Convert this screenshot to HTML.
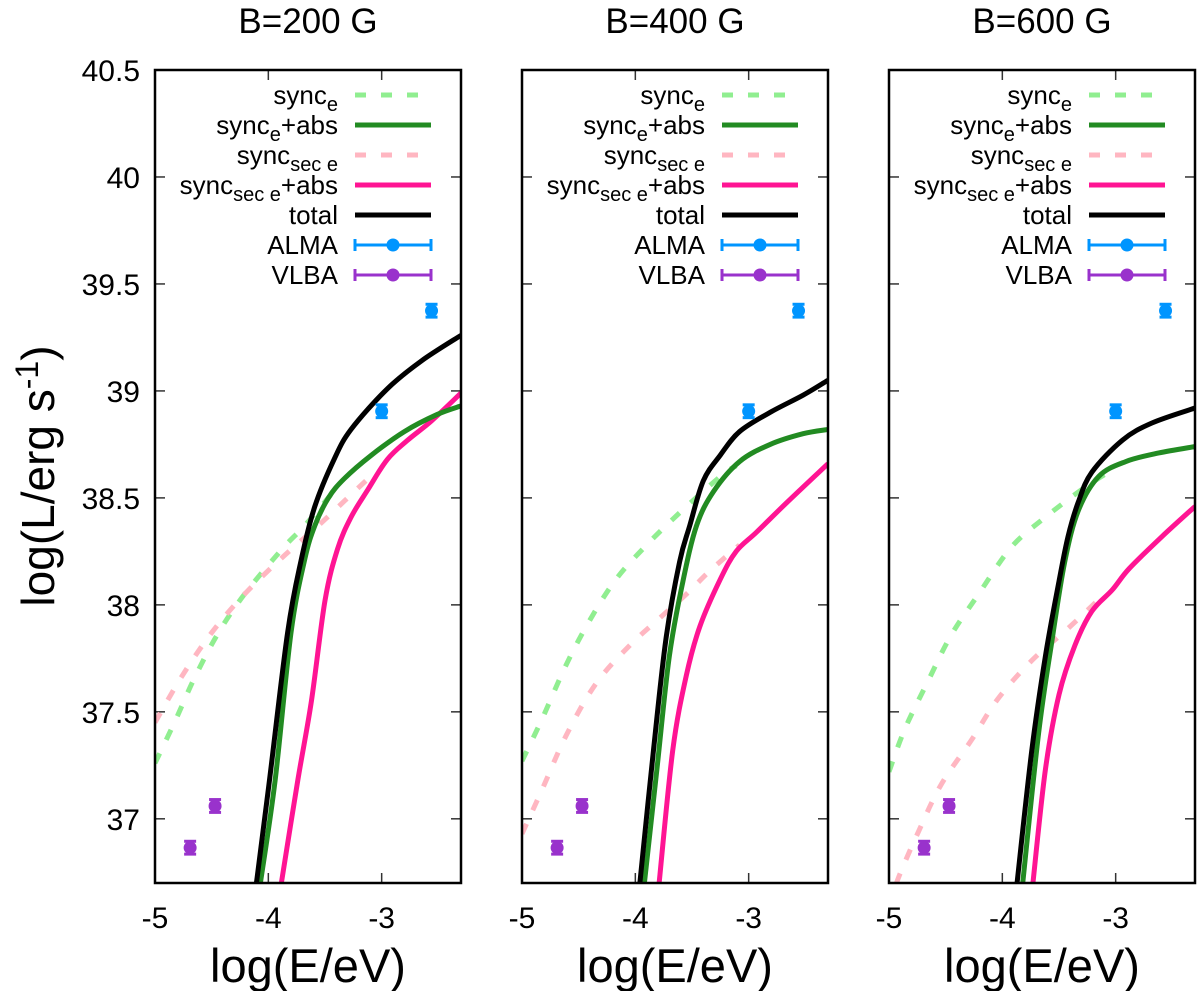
<!DOCTYPE html>
<html><head><meta charset="utf-8"><style>
body{margin:0;background:#fff;}
svg text{font-family:"Liberation Sans",Arial,sans-serif;fill:#000;}
</style></head><body>
<svg id="chart" width="1200" height="991" viewBox="0 0 1200 991" xmlns="http://www.w3.org/2000/svg">
<text x="0" y="0" font-size="46" text-anchor="middle" transform="translate(54,476) rotate(-90)">log(L/erg s<tspan dy="-16" font-size="32">-1</tspan><tspan dy="16">)</tspan></text>
<g id="panels"></g>
</svg>
<script>
const titles = ["B=200 G","B=400 G","B=600 G"];
const xTicks = [-5,-4,-3];
const yTicks = [37,37.5,38,38.5,39,39.5,40,40.5];
const yTickLabels = ["37","37.5","38","38.5","39","39.5","40","40.5"];
// panel 1
const p1SyncX = [-5,-4.82,-4.65,-4.44,-4.21,-3.88,-3.68,-3.44];
const p1SyncY = [37.26,37.46,37.66,37.87,38.05,38.26,38.37,38.52];
const p1SyncAbsX = [-4.07,-3.94,-3.80,-3.68,-3.59,-3.47,-3.33,-3.09,-2.80,-2.51,-2.30];
const p1SyncAbsY = [36.7,37.18,37.87,38.21,38.37,38.50,38.59,38.70,38.81,38.89,38.93];
const p1SecX = [-5,-4.77,-4.50,-4.21,-3.88,-3.56,-3.30,-3.06];
const p1SecY = [37.45,37.66,37.87,38.05,38.22,38.37,38.50,38.62];
const p1SecAbsX = [-3.885,-3.74,-3.62,-3.50,-3.39,-3.27,-3.12,-2.95,-2.77,-2.56,-2.30];
const p1SecAbsY = [36.7,37.18,37.55,38.02,38.26,38.41,38.54,38.68,38.77,38.86,38.99];
const p1TotalX = [-4.105,-3.99,-3.83,-3.71,-3.59,-3.42,-3.27,-2.95,-2.65,-2.30];
const p1TotalY = [36.7,37.18,37.87,38.21,38.46,38.68,38.82,39.01,39.14,39.26];
// panel 2
const p2SyncX = [-5,-4.82,-4.61,-4.40,-4.17,-3.90,-3.61,-3.25,-3.11];
const p2SyncY = [37.27,37.47,37.72,37.93,38.12,38.28,38.43,38.60,38.65];
const p2SyncAbsX = [-3.92,-3.81,-3.70,-3.58,-3.46,-3.31,-3.08,-2.81,-2.52,-2.30];
const p2SyncAbsY = [36.7,37.23,37.76,38.11,38.37,38.53,38.67,38.75,38.80,38.82];
const p2SecX = [-5,-4.82,-4.61,-4.35,-4.05,-3.76,-3.55,-3.34,-3.08];
const p2SecY = [36.93,37.14,37.39,37.63,37.81,37.95,38.05,38.16,38.28];
const p2SecAbsX = [-3.79,-3.67,-3.55,-3.43,-3.25,-3.11,-2.93,-2.66,-2.30];
const p2SecAbsY = [36.7,37.32,37.67,37.90,38.12,38.25,38.34,38.48,38.66];
const p2TotalX = [-3.96,-3.84,-3.73,-3.61,-3.52,-3.40,-3.25,-3.08,-2.81,-2.52,-2.30];
const p2TotalY = [36.7,37.32,37.84,38.20,38.37,38.58,38.70,38.81,38.90,38.98,39.05];
// panel 3
const p3SyncX = [-5,-4.86,-4.65,-4.45,-4.21,-3.92,-3.62,-3.27,-3.00];
const p3SyncY = [37.22,37.42,37.65,37.86,38.05,38.27,38.41,38.55,38.64];
const p3SyncAbsX = [-3.82,-3.68,-3.56,-3.45,-3.33,-3.15,-2.91,-2.62,-2.30];
const p3SyncAbsY = [36.7,37.40,37.84,38.20,38.44,38.60,38.67,38.71,38.74];
const p3SecX = [-5,-4.92,-4.74,-4.54,-4.27,-4.04,-3.74,-3.42,-3.12];
const p3SecY = [36.58,36.72,36.94,37.16,37.37,37.56,37.74,37.89,38.04];
const p3SecAbsX = [-3.73,-3.62,-3.50,-3.36,-3.21,-3.03,-2.88,-2.59,-2.30];
const p3SecAbsY = [36.7,37.23,37.58,37.81,37.97,38.07,38.17,38.32,38.46];
const p3TotalX = [-3.87,-3.74,-3.62,-3.50,-3.42,-3.33,-3.21,-2.94,-2.68,-2.30];
const p3TotalY = [36.7,37.32,37.76,38.11,38.32,38.48,38.62,38.77,38.85,38.92];
// observations
const almaX = [-3.0,-2.56];
const almaY = [38.905,39.375];
const almaErr = [0.03,0.03];
const vlbaX = [-4.69,-4.47];
const vlbaY = [36.865,37.06];
const vlbaErr = [0.03,0.03];

const panelData = [
 {sx:p1SyncX,sy:p1SyncY,ax:p1SyncAbsX,ay:p1SyncAbsY,cx:p1SecX,cy:p1SecY,dx:p1SecAbsX,dy:p1SecAbsY,tx:p1TotalX,ty:p1TotalY},
 {sx:p2SyncX,sy:p2SyncY,ax:p2SyncAbsX,ay:p2SyncAbsY,cx:p2SecX,cy:p2SecY,dx:p2SecAbsX,dy:p2SecAbsY,tx:p2TotalX,ty:p2TotalY},
 {sx:p3SyncX,sy:p3SyncY,ax:p3SyncAbsX,ay:p3SyncAbsY,cx:p3SecX,cy:p3SecY,dx:p3SecAbsX,dy:p3SecAbsY,tx:p3TotalX,ty:p3TotalY}
];
const panelLefts = [155,522,889];
const W = 306, TOP = 70, BOT = 883;
const XMIN=-5, XMAX=-2.3, YMIN=36.7, YMAX=40.5;
const NS="http://www.w3.org/2000/svg";
const root=document.getElementById('panels');
function mk(tag,attrs,parent){const e=document.createElementNS(NS,tag);for(const k in attrs)e.setAttribute(k,attrs[k]);(parent||root).appendChild(e);return e;}
function smooth(P){
  let d='M'+P[0][0]+','+P[0][1];
  for(let i=0;i<P.length-1;i++){
    const p0=P[Math.max(0,i-1)],p1=P[i],p2=P[i+1],p3=P[Math.min(P.length-1,i+2)];
    const c1=[p1[0]+(p2[0]-p0[0])/6,p1[1]+(p2[1]-p0[1])/6];
    const c2=[p2[0]-(p3[0]-p1[0])/6,p2[1]-(p3[1]-p1[1])/6];
    d+=' C'+c1[0]+','+c1[1]+' '+c2[0]+','+c2[1]+' '+p2[0]+','+p2[1];
  }
  return d;
}

panelLefts.forEach((L,pi)=>{
  const xs=v=>L+(v-XMIN)/(XMAX-XMIN)*W;
  const ys=v=>BOT-(v-YMIN)/(YMAX-YMIN)*(BOT-TOP);
  const g=mk('g',{});
  
  
  const t=mk('text',{x:L+W/2,y:33,'font-size':35,'text-anchor':'middle'},g);
  t.textContent=titles[pi];
  
  
  const cp=mk('clipPath',{id:'clip'+pi},g);
  mk('rect',{x:L,y:TOP,width:W,height:BOT-TOP},cp);
  yTicks.forEach((v,i)=>{
    const y=ys(v);
    mk('line',{x1:L,x2:L+10,y1:y,y2:y,stroke:'#333','stroke-width':1.5},g);
    mk('line',{x1:L+W-10,x2:L+W,y1:y,y2:y,stroke:'#333','stroke-width':1.5},g);
    if(pi===0){const tl=mk('text',{x:140,y:y+11,'font-size':30,'text-anchor':'end'},g);tl.textContent=yTickLabels[i];
      
      }
  });
  xTicks.forEach(v=>{
    const x=xs(v);
    mk('line',{x1:x,x2:x,y1:BOT,y2:BOT-10,stroke:'#333','stroke-width':1.5},g);
    mk('line',{x1:x,x2:x,y1:TOP,y2:TOP+10,stroke:'#333','stroke-width':1.5},g);
    const tl=mk('text',{x:x,y:BOT+45,'font-size':30,'text-anchor':'middle'},g);tl.textContent=String(v);
    
    
  });
  const xl=mk('text',{x:L+W/2,y:982,'font-size':47,'text-anchor':'middle'},g);
  xl.textContent='log(E/eV)';
  
  
  const d=panelData[pi];
  const cg=mk('g',{'clip-path':'url(#clip'+pi+')'},g);
  function line(X,Y,col,dash,name){
    const P=X.map((x,i)=>[xs(x),ys(Y[i])]);
    const p=mk('path',{d:smooth(P),fill:'none',stroke:col,'stroke-width':5,'stroke-linejoin':'round'},cg);
    if(dash)p.setAttribute('stroke-dasharray','11 15');
    
    
  }
  line(d.sx,d.sy,'#90ee90',true,'sync-e-line');
  line(d.cx,d.cy,'#ffb6c1',true,'sync-sec-e-line');
  line(d.dx,d.dy,'#ff1493',false,'sync-sec-e-abs-line');
  line(d.ax,d.ay,'#228b22',false,'sync-e-abs-line');
  line(d.tx,d.ty,'#000',false,'total-line');
  function pts(X,Y,E,col,name){
    X.forEach((x,i)=>{
      const px=xs(x),y1=ys(Y[i]-E[i]),y2=ys(Y[i]+E[i]);
      const pg=mk('g',{},cg);
      
      
      mk('line',{x1:px,x2:px,y1:y1,y2:y2,stroke:col,'stroke-width':3},pg);
      mk('line',{x1:px-6,x2:px+6,y1:y1,y2:y1,stroke:col,'stroke-width':3},pg);
      mk('line',{x1:px-6,x2:px+6,y1:y2,y2:y2,stroke:col,'stroke-width':3},pg);
      mk('circle',{cx:px,cy:ys(Y[i]),r:6.5,fill:col},pg);
    });
  }
  pts(almaX,almaY,almaErr,'#0095ff','alma-point');
  pts(vlbaX,vlbaY,vlbaErr,'#9932cc','vlba-point');
  mk('rect',{x:L,y:TOP,width:W,height:BOT-TOP,fill:'none',stroke:'#000','stroke-width':2.5},g);
  const lg=mk('g',{},g);
  
  
  const rows=[
    ['sync','e','','#90ee90','dash'],
    ['sync','e','+abs','#228b22','solid'],
    ['sync','sec e','','#ffb6c1','dash'],
    ['sync','sec e','+abs','#ff1493','solid'],
    ['total','','','#000','solid'],
    ['ALMA','','','#0095ff','err'],
    ['VLBA','','','#9932cc','err']];
  rows.forEach((r,i)=>{
    const y=95+i*30;
    const tx=mk('text',{x:L+183,y:y+9,'font-size':26,'text-anchor':'end'},lg);
    
    
    let html=r[0];
    if(r[1])html+='<tspan dy="7" font-size="20">'+r[1]+'</tspan>';
    if(r[2])html+='<tspan dy="-7">'+r[2]+'</tspan>';
    tx.innerHTML=html;
    const x1=L+200,x2=L+276;
    if(r[4]==='err'){
      mk('line',{x1:x1,x2:x2,y1:y,y2:y,stroke:r[3],'stroke-width':3},lg);
      mk('line',{x1:x1,x2:x1,y1:y-6,y2:y+6,stroke:r[3],'stroke-width':3},lg);
      mk('line',{x1:x2,x2:x2,y1:y-6,y2:y+6,stroke:r[3],'stroke-width':3},lg);
      mk('circle',{cx:(x1+x2)/2,cy:y,r:6.5,fill:r[3]},lg);
    } else {
      const l=mk('line',{x1:x1,x2:x2,y1:y,y2:y,stroke:r[3],'stroke-width':5},lg);
      if(r[4]==='dash')l.setAttribute('stroke-dasharray','11 15');
    }
  });
});
</script>
</body></html>
